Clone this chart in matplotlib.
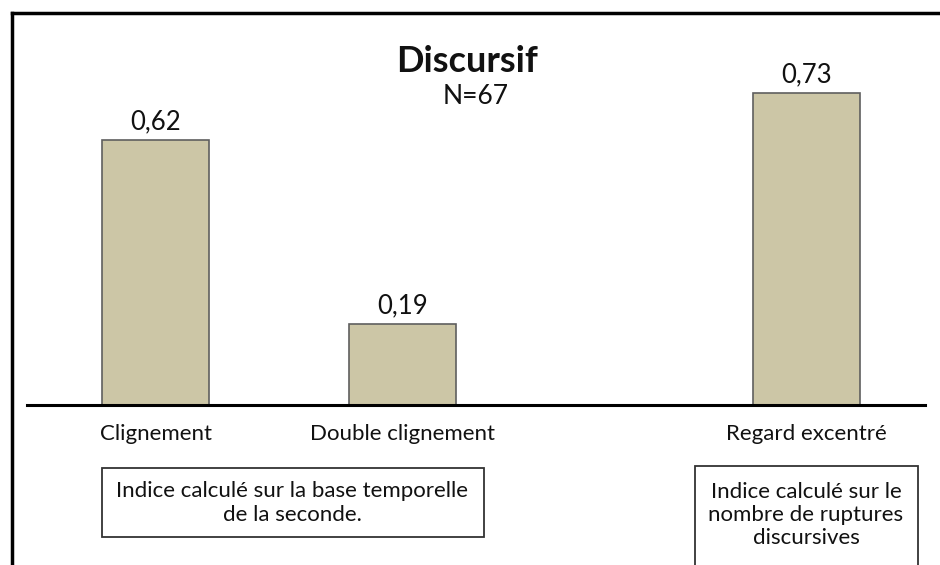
import matplotlib.pyplot as plt
from matplotlib.patches import Rectangle
from matplotlib.lines import Line2D

categories = ['Clignement', 'Double clignement', 'Regard excentré']
values = [0.62, 0.19, 0.73]
positions = [0, 1, 2.64]
value_labels = ['0,62', '0,19', '0,73']
notes = ['Indice calculé sur la base temporelle\nde la seconde.',
         'Indice calculé sur le\nnombre de ruptures\ndiscursives']

W, H = 940, 565
plt.rcParams['font.family'] = ['Lato', 'DejaVu Sans']

fig = plt.figure(figsize=(W / 100, H / 100), dpi=100)
fig.patch.set_facecolor('white')

def fx(x):
    return x / W

def fy(y):
    return 1 - y / H

# axes: baseline at y=405 px, x from 27 to 925 px
ax = fig.add_axes([fx(27), fy(405), fx(925) - fx(27), fy(13) - fy(405)])
ax.bar(positions, values, width=0.434, color='#ccc6a6', edgecolor='#5f5f5f', linewidth=1.2, zorder=2)
ax.set_xlim(-0.523, 3.12)
ax.set_ylim(0, 392 / 428)
for s in ['top', 'right', 'left']:
    ax.spines[s].set_visible(False)
ax.spines['bottom'].set_linewidth(2.2)
ax.spines['bottom'].set_zorder(3)
ax.set_yticks([])
ax.set_xticks(positions)
ax.set_xticklabels(categories, fontsize=16, color='#111111')
ax.tick_params(axis='x', length=0, pad=14)
ax.patch.set_alpha(0)

for p, v, lab in zip(positions, values, value_labels):
    ax.text(p, v + 0.012, lab, ha='center', va='bottom', fontsize=18.5, color='#111111')

# title
fig.text(fx(467), fy(61), 'Discursif', ha='center', va='center', fontsize=26, fontweight='bold', color='#111111')
fig.text(fx(476), fy(96), 'N=67', ha='center', va='center', fontsize=19, color='#111111')

# outer frame
fig.add_artist(Line2D([fx(12), fx(12)], [fy(13), 0], transform=fig.transFigure, color='black', lw=2.5))
fig.add_artist(Line2D([fx(12), 1], [fy(13), fy(13)], transform=fig.transFigure, color='black', lw=2.5))

# note boxes
fig.add_artist(Rectangle((fx(102), fy(537)), fx(484) - fx(102), fy(468) - fy(537),
                         transform=fig.transFigure, fill=False, edgecolor='#333333', lw=1.3))
fig.text(fx(292), fy(503), notes[0], ha='center', va='center', fontsize=16, color='#111111', linespacing=1.3)
fig.add_artist(Rectangle((fx(695), fy(580)), fx(918) - fx(695), fy(466) - fy(580),
                         transform=fig.transFigure, fill=False, edgecolor='#333333', lw=1.3))
fig.text(fx(806), fy(515), notes[1], ha='center', va='center', fontsize=16, color='#111111', linespacing=1.2)

fig.savefig('out.png', dpi=100)
